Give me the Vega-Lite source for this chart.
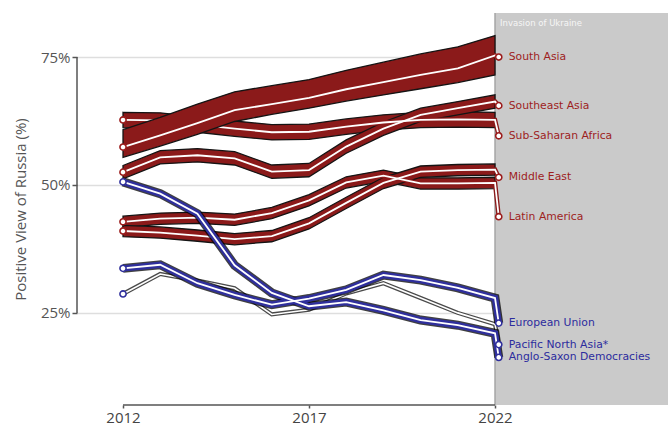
{
  "$schema": "https://vega.github.io/schema/vega-lite/v6.json",
  "width": 591,
  "height": 392,
  "autosize": {"type": "none"},
  "padding": {"left": 77, "top": 13, "right": 0, "bottom": 23},
  "background": "white",
  "config": {"view": {"stroke": null}},
  "datasets": {
    "d": [
      {"s": "South Asia", "g": "red", "yr": 2012, "v": 57.4, "lo": 55.4, "hi": 60.8},
      {"s": "South Asia", "g": "red", "yr": 2013, "v": 59.7, "lo": 57.6, "hi": 63.2},
      {"s": "South Asia", "g": "red", "yr": 2014, "v": 62.1, "lo": 59.9, "hi": 65.8},
      {"s": "South Asia", "g": "red", "yr": 2015, "v": 64.6, "lo": 62.4, "hi": 68.2},
      {"s": "South Asia", "g": "red", "yr": 2016, "v": 65.8, "lo": 63.8, "hi": 69.4},
      {"s": "South Asia", "g": "red", "yr": 2017, "v": 67.0, "lo": 65.0, "hi": 70.6},
      {"s": "South Asia", "g": "red", "yr": 2018, "v": 68.7, "lo": 66.4, "hi": 72.4},
      {"s": "South Asia", "g": "red", "yr": 2019, "v": 70.1, "lo": 67.6, "hi": 74.0},
      {"s": "South Asia", "g": "red", "yr": 2020, "v": 71.5, "lo": 68.8, "hi": 75.6},
      {"s": "South Asia", "g": "red", "yr": 2021, "v": 72.8, "lo": 70.0, "hi": 77.0},
      {"s": "South Asia", "g": "red", "yr": 2022, "v": 75.3, "lo": 71.5, "hi": 79.2},
      {"s": "South Asia", "g": "red", "yr": 2022.1, "v": 75.0},

      {"s": "Sub-Saharan Africa", "g": "red", "yr": 2012, "v": 62.7, "lo": 61.2, "hi": 64.2},
      {"s": "Sub-Saharan Africa", "g": "red", "yr": 2013, "v": 62.6, "lo": 61.1, "hi": 64.1},
      {"s": "Sub-Saharan Africa", "g": "red", "yr": 2014, "v": 61.8, "lo": 60.3, "hi": 63.3},
      {"s": "Sub-Saharan Africa", "g": "red", "yr": 2015, "v": 61.0, "lo": 59.5, "hi": 62.5},
      {"s": "Sub-Saharan Africa", "g": "red", "yr": 2016, "v": 60.3, "lo": 58.8, "hi": 61.8},
      {"s": "Sub-Saharan Africa", "g": "red", "yr": 2017, "v": 60.4, "lo": 58.9, "hi": 61.9},
      {"s": "Sub-Saharan Africa", "g": "red", "yr": 2018, "v": 61.4, "lo": 59.9, "hi": 62.9},
      {"s": "Sub-Saharan Africa", "g": "red", "yr": 2019, "v": 62.2, "lo": 60.7, "hi": 63.7},
      {"s": "Sub-Saharan Africa", "g": "red", "yr": 2020, "v": 62.7, "lo": 61.2, "hi": 64.2},
      {"s": "Sub-Saharan Africa", "g": "red", "yr": 2021, "v": 62.8, "lo": 61.3, "hi": 64.3},
      {"s": "Sub-Saharan Africa", "g": "red", "yr": 2022, "v": 62.7, "lo": 61.2, "hi": 64.2},
      {"s": "Sub-Saharan Africa", "g": "red", "yr": 2022.1, "v": 59.6},

      {"s": "Southeast Asia", "g": "red", "yr": 2012, "v": 52.5, "lo": 51.2, "hi": 53.8},
      {"s": "Southeast Asia", "g": "red", "yr": 2013, "v": 55.4, "lo": 54.1, "hi": 56.7},
      {"s": "Southeast Asia", "g": "red", "yr": 2014, "v": 55.8, "lo": 54.5, "hi": 57.1},
      {"s": "Southeast Asia", "g": "red", "yr": 2015, "v": 55.2, "lo": 53.9, "hi": 56.5},
      {"s": "Southeast Asia", "g": "red", "yr": 2016, "v": 52.6, "lo": 51.3, "hi": 53.9},
      {"s": "Southeast Asia", "g": "red", "yr": 2017, "v": 52.9, "lo": 51.6, "hi": 54.2},
      {"s": "Southeast Asia", "g": "red", "yr": 2018, "v": 57.5, "lo": 56.2, "hi": 58.8},
      {"s": "Southeast Asia", "g": "red", "yr": 2019, "v": 61.0, "lo": 59.7, "hi": 62.3},
      {"s": "Southeast Asia", "g": "red", "yr": 2020, "v": 63.7, "lo": 62.4, "hi": 65.0},
      {"s": "Southeast Asia", "g": "red", "yr": 2021, "v": 65.0, "lo": 63.7, "hi": 66.3},
      {"s": "Southeast Asia", "g": "red", "yr": 2022, "v": 66.3, "lo": 65.0, "hi": 67.6},
      {"s": "Southeast Asia", "g": "red", "yr": 2022.1, "v": 65.5},

      {"s": "Latin America", "g": "red", "yr": 2012, "v": 42.8, "lo": 41.7, "hi": 43.9},
      {"s": "Latin America", "g": "red", "yr": 2013, "v": 43.4, "lo": 42.3, "hi": 44.5},
      {"s": "Latin America", "g": "red", "yr": 2014, "v": 43.6, "lo": 42.5, "hi": 44.7},
      {"s": "Latin America", "g": "red", "yr": 2015, "v": 43.2, "lo": 42.1, "hi": 44.3},
      {"s": "Latin America", "g": "red", "yr": 2016, "v": 44.5, "lo": 43.4, "hi": 45.6},
      {"s": "Latin America", "g": "red", "yr": 2017, "v": 47.0, "lo": 45.9, "hi": 48.1},
      {"s": "Latin America", "g": "red", "yr": 2018, "v": 50.5, "lo": 49.4, "hi": 51.6},
      {"s": "Latin America", "g": "red", "yr": 2019, "v": 51.8, "lo": 50.7, "hi": 52.9},
      {"s": "Latin America", "g": "red", "yr": 2020, "v": 50.3, "lo": 49.2, "hi": 51.4},
      {"s": "Latin America", "g": "red", "yr": 2021, "v": 50.3, "lo": 49.2, "hi": 51.4},
      {"s": "Latin America", "g": "red", "yr": 2022, "v": 50.4, "lo": 49.3, "hi": 51.5},
      {"s": "Latin America", "g": "red", "yr": 2022.1, "v": 43.8},

      {"s": "Middle East", "g": "red", "yr": 2012, "v": 41.0, "lo": 39.9, "hi": 42.1},
      {"s": "Middle East", "g": "red", "yr": 2013, "v": 40.7, "lo": 39.6, "hi": 41.8},
      {"s": "Middle East", "g": "red", "yr": 2014, "v": 40.1, "lo": 39.0, "hi": 41.2},
      {"s": "Middle East", "g": "red", "yr": 2015, "v": 39.4, "lo": 38.3, "hi": 40.5},
      {"s": "Middle East", "g": "red", "yr": 2016, "v": 40.0, "lo": 38.9, "hi": 41.1},
      {"s": "Middle East", "g": "red", "yr": 2017, "v": 42.5, "lo": 41.4, "hi": 43.6},
      {"s": "Middle East", "g": "red", "yr": 2018, "v": 46.5, "lo": 45.4, "hi": 47.6},
      {"s": "Middle East", "g": "red", "yr": 2019, "v": 50.4, "lo": 49.3, "hi": 51.5},
      {"s": "Middle East", "g": "red", "yr": 2020, "v": 52.6, "lo": 51.5, "hi": 53.7},
      {"s": "Middle East", "g": "red", "yr": 2021, "v": 52.9, "lo": 51.8, "hi": 54.0},
      {"s": "Middle East", "g": "red", "yr": 2022, "v": 53.0, "lo": 51.9, "hi": 54.1},
      {"s": "Middle East", "g": "red", "yr": 2022.1, "v": 51.5},

      {"s": "European Union", "g": "blue", "yr": 2012, "v": 33.7},
      {"s": "European Union", "g": "blue", "yr": 2013, "v": 34.4},
      {"s": "European Union", "g": "blue", "yr": 2014, "v": 30.8},
      {"s": "European Union", "g": "blue", "yr": 2015, "v": 28.5},
      {"s": "European Union", "g": "blue", "yr": 2016, "v": 26.6},
      {"s": "European Union", "g": "blue", "yr": 2017, "v": 27.8},
      {"s": "European Union", "g": "blue", "yr": 2018, "v": 29.5},
      {"s": "European Union", "g": "blue", "yr": 2019, "v": 32.4},
      {"s": "European Union", "g": "blue", "yr": 2020, "v": 31.4},
      {"s": "European Union", "g": "blue", "yr": 2021, "v": 29.9},
      {"s": "European Union", "g": "blue", "yr": 2022, "v": 27.9},
      {"s": "European Union", "g": "blue", "yr": 2022.1, "v": 23.0},

      {"s": "Anglo-Saxon Democracies", "g": "blue", "yr": 2012, "v": 50.6},
      {"s": "Anglo-Saxon Democracies", "g": "blue", "yr": 2013, "v": 48.3},
      {"s": "Anglo-Saxon Democracies", "g": "blue", "yr": 2014, "v": 44.4},
      {"s": "Anglo-Saxon Democracies", "g": "blue", "yr": 2015, "v": 34.3},
      {"s": "Anglo-Saxon Democracies", "g": "blue", "yr": 2016, "v": 28.9},
      {"s": "Anglo-Saxon Democracies", "g": "blue", "yr": 2017, "v": 26.3},
      {"s": "Anglo-Saxon Democracies", "g": "blue", "yr": 2018, "v": 27.1},
      {"s": "Anglo-Saxon Democracies", "g": "blue", "yr": 2019, "v": 25.5},
      {"s": "Anglo-Saxon Democracies", "g": "blue", "yr": 2020, "v": 23.6},
      {"s": "Anglo-Saxon Democracies", "g": "blue", "yr": 2021, "v": 22.6},
      {"s": "Anglo-Saxon Democracies", "g": "blue", "yr": 2022, "v": 21.0},
      {"s": "Anglo-Saxon Democracies", "g": "blue", "yr": 2022.1, "v": 16.3},

      {"s": "Pacific North Asia*", "g": "grey", "yr": 2012, "v": 28.7},
      {"s": "Pacific North Asia*", "g": "grey", "yr": 2013, "v": 32.6},
      {"s": "Pacific North Asia*", "g": "grey", "yr": 2014, "v": 31.3},
      {"s": "Pacific North Asia*", "g": "grey", "yr": 2015, "v": 29.8},
      {"s": "Pacific North Asia*", "g": "grey", "yr": 2016, "v": 24.7},
      {"s": "Pacific North Asia*", "g": "grey", "yr": 2017, "v": 25.6},
      {"s": "Pacific North Asia*", "g": "grey", "yr": 2018, "v": 28.8},
      {"s": "Pacific North Asia*", "g": "grey", "yr": 2019, "v": 30.8},
      {"s": "Pacific North Asia*", "g": "grey", "yr": 2020, "v": 27.9},
      {"s": "Pacific North Asia*", "g": "grey", "yr": 2021, "v": 25.0},
      {"s": "Pacific North Asia*", "g": "grey", "yr": 2022, "v": 22.8},
      {"s": "Pacific North Asia*", "g": "grey", "yr": 2022.1, "v": 18.8}
    ]
  },
  "encoding": {
    "x": {
      "field": "yr", "type": "quantitative", "title": null,
      "scale": {"domain": [2010.763, 2026.65], "nice": false, "zero": false},
      "axis": {"values": [2012, 2017, 2022], "format": "d", "domain": false, "grid": false, "ticks": true, "tickSize": 3, "tickColor": "#555", "tickWidth": 1.5, "labelFont": "Open Sans", "labelFontSize": 15, "labelColor": "#444", "labelPadding": 2}
    },
    "y": {
      "field": "v", "type": "quantitative", "title": "Positive View of Russia (%)",
      "scale": {"domain": [7, 83.6], "nice": false, "zero": false},
      "axis": {"values": [25, 50, 75], "labelExpr": "datum.value + '%'", "domain": false, "grid": true, "gridColor": "#dedede", "gridWidth": 1.5, "ticks": true, "tickSize": 5, "tickColor": "#555", "tickWidth": 1.5, "labelFont": "Open Sans", "labelFontSize": 15, "labelColor": "#555", "labelPadding": 2, "titleFont": "Open Sans", "titleFontSize": 15, "titleFontWeight": "normal", "titleColor": "#555", "titlePadding": 12}
    }
  },
  "layer": [
    {
      "data": {"values": [{"yr": 2022, "yr2": 2026.65, "v": 7, "v2": 83.6}]},
      "mark": {"type": "rect", "color": "#cacaca"},
      "encoding": {"x2": {"field": "yr2"}, "y2": {"field": "v2"}}
    },
    {
      "data": {"values": [{"yr": 2022, "v": 7, "v2": 83.6}]},
      "mark": {"type": "rule", "color": "#a5a5a5", "strokeWidth": 1.5},
      "encoding": {"y2": {"field": "v2"}}
    },
    {
      "data": {"values": [{"yr": 2022, "v": 81.7, "t": "Invasion of Ukraine"}]},
      "mark": {"type": "text", "align": "left", "baseline": "middle", "dx": 5, "font": "DejaVu Sans", "fontSize": 8.5, "color": "#f6f6f6"},
      "encoding": {"text": {"field": "t"}}
    },
    {
      "data": {"values": [{"yr": 2010.763, "v": 25, "v2": 75}]},
      "mark": {"type": "rule", "color": "#555", "strokeWidth": 1.5},
      "encoding": {"y2": {"field": "v2"}}
    },
    {
      "data": {"values": [{"yr": 2012, "yr2": 2022, "v": 7}]},
      "mark": {"type": "rule", "color": "#555", "strokeWidth": 1.5},
      "encoding": {"x2": {"field": "yr2"}}
    },
    {
      "data": {"name": "d"},
      "transform": [{"filter": "datum.g == 'red' && datum.s != 'South Asia' && isValid(datum.lo)"}],
      "mark": {"type": "area", "color": "#8b1a1a", "stroke": "#141414", "strokeWidth": 1.3, "opacity": 1},
      "encoding": {
        "y": {"field": "hi", "type": "quantitative", "title": "Positive View of Russia (%)", "scale": {"domain": [7, 83.6], "nice": false, "zero": false}},
        "y2": {"field": "lo"},
        "detail": {"field": "s"}
      }
    },
    {
      "data": {"name": "d"},
      "transform": [{"filter": "datum.g == 'red' && datum.s != 'South Asia'"}],
      "mark": {"type": "line", "color": "#8b1a1a", "strokeWidth": 4.5},
      "encoding": {"detail": {"field": "s"}}
    },
    {
      "data": {"name": "d"},
      "transform": [{"filter": "datum.g == 'red' && datum.s != 'South Asia'"}],
      "mark": {"type": "line", "color": "#ffffff", "strokeWidth": 1.8},
      "encoding": {"detail": {"field": "s"}}
    },
    {
      "data": {"name": "d"},
      "transform": [{"filter": "datum.s == 'South Asia' && isValid(datum.lo)"}],
      "mark": {"type": "area", "color": "#8b1a1a", "stroke": "#141414", "strokeWidth": 1.3, "opacity": 1},
      "encoding": {
        "y": {"field": "hi", "type": "quantitative", "title": "Positive View of Russia (%)", "scale": {"domain": [7, 83.6], "nice": false, "zero": false}},
        "y2": {"field": "lo"}
      }
    },
    {
      "data": {"name": "d"},
      "transform": [{"filter": "datum.s == 'South Asia'"}],
      "mark": {"type": "line", "color": "#8b1a1a", "strokeWidth": 4.5},
      "encoding": {"detail": {"field": "s"}}
    },
    {
      "data": {"name": "d"},
      "transform": [{"filter": "datum.s == 'South Asia'"}],
      "mark": {"type": "line", "color": "#ffffff", "strokeWidth": 1.8},
      "encoding": {"detail": {"field": "s"}}
    },
    {
      "data": {"name": "d"},
      "transform": [{"filter": "datum.g == 'grey'"}],
      "mark": {"type": "line", "color": "#2a2a2a", "strokeWidth": 4.2, "opacity": 0.85},
      "encoding": {"detail": {"field": "s"}}
    },
    {
      "data": {"name": "d"},
      "transform": [{"filter": "datum.g == 'grey'"}],
      "mark": {"type": "line", "color": "#ffffff", "strokeWidth": 1.6},
      "encoding": {"detail": {"field": "s"}}
    },
    {
      "data": {"name": "d"},
      "transform": [{"filter": "datum.g == 'blue'"}],
      "mark": {"type": "line", "color": "#000000", "strokeWidth": 9, "opacity": 0.75},
      "encoding": {"detail": {"field": "s"}}
    },
    {
      "data": {"name": "d"},
      "transform": [{"filter": "datum.g == 'blue'"}],
      "mark": {"type": "line", "color": "#2f2f9c", "strokeWidth": 6.5},
      "encoding": {"detail": {"field": "s"}}
    },
    {
      "data": {"name": "d"},
      "transform": [{"filter": "datum.g == 'blue'"}],
      "mark": {"type": "line", "color": "#ffffff", "strokeWidth": 1.8},
      "encoding": {"detail": {"field": "s"}}
    },
    {
      "data": {"name": "d"},
      "transform": [{"filter": "datum.yr == 2012 || datum.yr > 2022"}],
      "mark": {"type": "point", "filled": true, "fill": "white", "strokeWidth": 1.6, "size": 38, "opacity": 1},
      "encoding": {
        "stroke": {"field": "g", "type": "nominal", "scale": {"domain": ["red", "blue", "grey"], "range": ["#9b1c1c", "#2f2f9c", "#2f2f9c"]}, "legend": null}
      }
    },
    {
      "data": {"name": "d"},
      "transform": [{"filter": "datum.yr > 2022"}],
      "mark": {"type": "text", "align": "left", "baseline": "middle", "dx": 10, "font": "DejaVu Sans", "fontSize": 10.8},
      "encoding": {
        "text": {"field": "s"},
        "color": {"field": "g", "type": "nominal", "scale": {"domain": ["red", "blue", "grey"], "range": ["#9e1e1e", "#2c2c9e", "#2c2c9e"]}, "legend": null}
      }
    }
  ]
}
